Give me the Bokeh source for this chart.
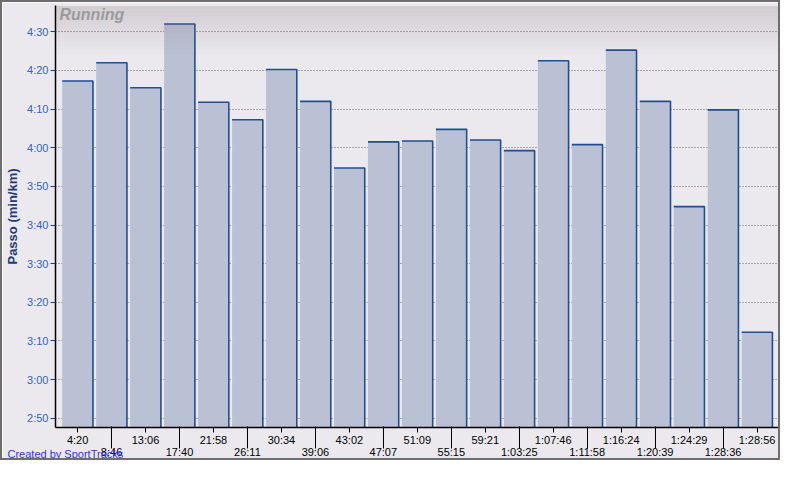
from bokeh.plotting import figure
from bokeh.models import (FixedTicker, BoxAnnotation, Label, Range1d, LinearAxis,
                          Title)
from bokeh.embed import file_html
from bokeh.resources import INLINE

# ---- data ----
split_labels = ["4:20", "8:46", "13:06", "17:40", "21:58", "26:11", "30:34",
                "39:06", "43:02", "47:07", "51:09", "55:15", "59:21", "1:03:25",
                "1:07:46", "1:11:58", "1:16:24", "1:20:39", "1:24:29", "1:28:36",
                "1:28:56"]
pace_sec = [257.25, 262.0, 255.5, 272.0, 251.75, 247.25, 260.25, 252.0, 234.75,
            241.5, 241.75, 244.75, 242.0, 239.25, 262.5, 240.8, 265.25, 252.0,
            224.75, 249.8, 192.25]
y_ticks = [170, 180, 190, 200, 210, 220, 230, 240, 250, 260, 270]
y_tick_labels = ["2:50", "3:00", "3:10", "3:20", "3:30", "3:40", "3:50",
                 "4:00", "4:10", "4:20", "4:30"]

Y_MIN, Y_MAX = 167.6, 276.8
BAR_W = 0.905
FONT = "Liberation Sans"
BG = "#EBE9EE"

idx = list(range(len(split_labels)))
even_idx = idx[0::2]
odd_idx = idx[1::2]

p = figure(width=780, height=460, output_backend="svg", toolbar_location=None,
           x_range=Range1d(-0.65, len(idx) - 0.28), y_range=Range1d(Y_MIN, Y_MAX),
           min_border_left=50, min_border_right=1, min_border_top=3,
           min_border_bottom=35)
p.styles = {"border": "2px solid #6E6E6E"}
p.background_fill_color = BG
p.border_fill_color = BG
p.outline_line_color = None

# bars
p.vbar(x=idx, top=pace_sec, bottom=Y_MIN, width=BAR_W,
       fill_color="#BBC1D4", line_color=None)
# top + right edges of each bar
edge_xs = [[i - BAR_W / 2, i + BAR_W / 2, i + BAR_W / 2] for i in idx]
edge_ys = [[v, v, Y_MIN] for v in pace_sec]
p.multi_line(xs=edge_xs, ys=edge_ys, line_color="#1F4E91", line_width=1.6)

# grid
p.xgrid.grid_line_color = None
p.ygrid.ticker = FixedTicker(ticks=y_ticks)
p.ygrid.grid_line_color = "#606060"
p.ygrid.grid_line_dash = "1 2"
p.ygrid.grid_line_width = 1

# y axis
p.yaxis.ticker = FixedTicker(ticks=y_ticks)
p.yaxis.major_label_overrides = {t: l for t, l in zip(y_ticks, y_tick_labels)}
p.yaxis.axis_label = "Passo (min/km)"
p.yaxis.axis_label_text_font = FONT
p.yaxis.axis_label_text_font_size = "13px"
p.yaxis.axis_label_text_font_style = "bold"
p.yaxis.axis_label_text_color = "#1E3C78"
p.yaxis.axis_label_standoff = 4
p.yaxis.major_label_text_font = FONT
p.yaxis.major_label_text_font_size = "11px"
p.yaxis.major_label_text_color = "#3464B4"
p.yaxis.major_label_standoff = 2
p.yaxis.major_tick_out = 5
p.yaxis.major_tick_in = 0
p.yaxis.major_tick_line_color = "#1E3C78"
p.yaxis.minor_tick_line_color = None
p.yaxis.axis_line_color = "black"
p.yaxis.axis_line_width = 1.5

# x axis (upper row): even labels, short ticks
xa = p.xaxis[0]
xa.ticker = FixedTicker(ticks=even_idx, minor_ticks=[])
xa.major_label_overrides = {i: split_labels[i] for i in even_idx}
xa.major_label_text_font = FONT
xa.major_label_text_font_size = "11px"
xa.major_label_text_color = "black"
xa.major_label_standoff = 1
xa.major_tick_out = 5
xa.major_tick_in = 0
xa.minor_tick_line_color = None
xa.major_tick_line_color = "black"
xa.axis_line_color = "black"
xa.axis_line_width = 1.5

# lower row of labels, with long ticks reaching up to the axis line
xb = LinearAxis(ticker=FixedTicker(ticks=odd_idx, minor_ticks=[]),
                major_label_overrides={i: split_labels[i] for i in odd_idx},
                major_label_text_font=FONT, major_label_text_font_size="11px",
                major_label_text_color="black", major_label_standoff=-3,
                major_tick_out=0, major_tick_in=22, major_tick_line_color="black",
                minor_tick_line_color=None, axis_line_color=None)
p.add_layout(xb, "below")

# top gradient overlay
n_bands = 12
grad_bottom = 264.3
band_h = (Y_MAX - grad_bottom) / n_bands
for k in range(n_bands):
    top = Y_MAX - k * band_h
    p.add_layout(BoxAnnotation(top=top, bottom=top - band_h,
                               fill_color="#7A666A",
                               fill_alpha=0.21 * (1 - k / n_bands),
                               line_color=None))

p.add_layout(Label(x=p.x_range.start, y=Y_MAX, x_offset=4, y_offset=0,
                   text="Running", text_font=FONT, text_font_size="16px",
                   text_font_style="bold italic", text_color="#9B9B9B",
                   text_baseline="top"))
p.add_layout(Title(text="Created by SportTracks", align="left", offset=-48,
                   standoff=-26, vertical_align="top", text_font=FONT,
                   text_font_size="11px", text_font_style="normal",
                   text_color="#3030E8"), "below")

open("out.html", "w").write(file_html(p, INLINE))
